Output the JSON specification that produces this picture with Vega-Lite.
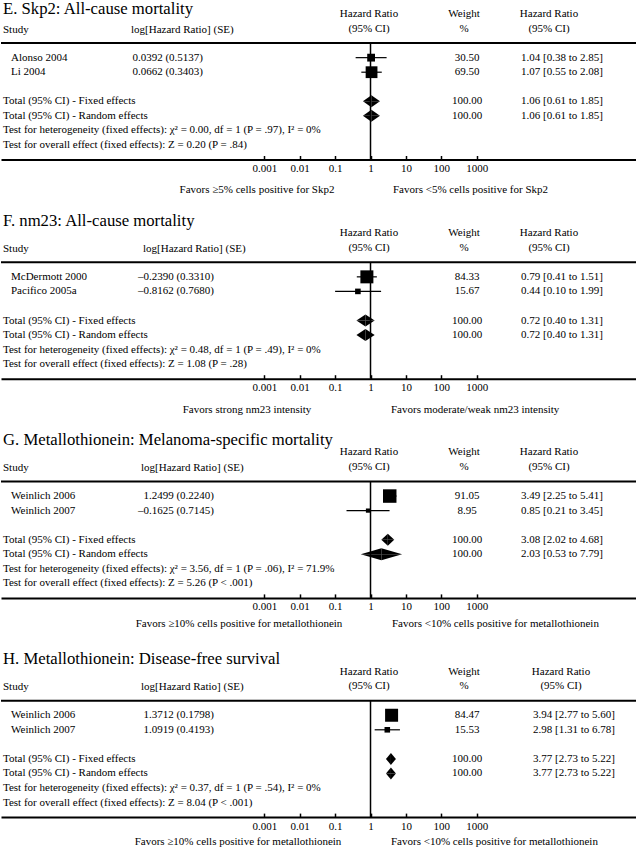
{
"$schema": "https://vega.github.io/schema/vega-lite/v6.json",
"padding": {"top": 0, "left": 0, "right": 0, "bottom": 0},
"bounds": "flush",
"spacing": 73.2,
"config": {"view": {"stroke": null}, "font": "Liberation Serif", "mark": {"font": "Liberation Serif"}, "text": {"fontSize": 11, "color": "black", "font": "Liberation Serif"}, "title": {"font": "Liberation Serif", "fontSize": 16.7, "fontWeight": "normal", "color": "black", "anchor": "start", "frame": "group"}},
"datasets": {
"panels": [
{"panel": "E", "favorsLeft": "Favors ≥5% cells positive for Skp2", "favorsRight": "Favors <5% cells positive for Skp2"},
{"panel": "F", "favorsLeft": "Favors strong nm23 intensity", "favorsRight": "Favors moderate/weak nm23 intensity"},
{"panel": "G", "favorsLeft": "Favors ≥10% cells positive for metallothionein", "favorsRight": "Favors <10% cells positive for metallothionein"},
{"panel": "H", "favorsLeft": "Favors ≥10% cells positive for metallothionein", "favorsRight": "Favors <10% cells positive for metallothionein"}
],
"rows": [
{"panel": "E", "kind": "study", "row": "s1", "label": "Alonso 2004", "logse": "0.0392 (0.5137)", "weight": 30.5, "hr": 1.04, "lo": 0.38, "hi": 2.85, "ci": "1.04 [0.38 to 2.85]"},
{"panel": "E", "kind": "study", "row": "s2", "label": "Li 2004", "logse": "0.0662 (0.3403)", "weight": 69.5, "hr": 1.07, "lo": 0.55, "hi": 2.08, "ci": "1.07 [0.55 to 2.08]"},
{"panel": "E", "kind": "total", "row": "tf", "label": "Total (95% CI) - Fixed effects", "weight": 100, "hr": 1.06, "lo": 0.61, "hi": 1.85, "ci": "1.06 [0.61 to 1.85]"},
{"panel": "E", "kind": "total", "row": "tr", "label": "Total (95% CI) - Random effects", "weight": 100, "hr": 1.06, "lo": 0.61, "hi": 1.85, "ci": "1.06 [0.61 to 1.85]"},
{"panel": "E", "kind": "test", "row": "het", "label": "Test for heterogeneity (fixed effects): χ² = 0.00, df = 1 (P = .97), I² = 0%"},
{"panel": "E", "kind": "test", "row": "ovr", "label": "Test for overall effect (fixed effects): Z = 0.20 (P = .84)"},
{"panel": "F", "kind": "study", "row": "s1", "label": "McDermott 2000", "logse": "–0.2390 (0.3310)", "weight": 84.33, "hr": 0.79, "lo": 0.41, "hi": 1.51, "ci": "0.79 [0.41 to 1.51]"},
{"panel": "F", "kind": "study", "row": "s2", "label": "Pacifico 2005a", "logse": "–0.8162 (0.7680)", "weight": 15.67, "hr": 0.44, "lo": 0.10, "hi": 1.99, "ci": "0.44 [0.10 to 1.99]"},
{"panel": "F", "kind": "total", "row": "tf", "label": "Total (95% CI) - Fixed effects", "weight": 100, "hr": 0.72, "lo": 0.40, "hi": 1.31, "ci": "0.72 [0.40 to 1.31]"},
{"panel": "F", "kind": "total", "row": "tr", "label": "Total (95% CI) - Random effects", "weight": 100, "hr": 0.72, "lo": 0.40, "hi": 1.31, "ci": "0.72 [0.40 to 1.31]"},
{"panel": "F", "kind": "test", "row": "het", "label": "Test for heterogeneity (fixed effects): χ² = 0.48, df = 1 (P = .49), I² = 0%"},
{"panel": "F", "kind": "test", "row": "ovr", "label": "Test for overall effect (fixed effects): Z = 1.08 (P = .28)"},
{"panel": "G", "kind": "study", "row": "s1", "label": "Weinlich 2006", "logse": "1.2499 (0.2240)", "weight": 91.05, "hr": 3.49, "lo": 2.25, "hi": 5.41, "ci": "3.49 [2.25 to 5.41]"},
{"panel": "G", "kind": "study", "row": "s2", "label": "Weinlich 2007", "logse": "–0.1625 (0.7145)", "weight": 8.95, "hr": 0.85, "lo": 0.21, "hi": 3.45, "ci": "0.85 [0.21 to 3.45]"},
{"panel": "G", "kind": "total", "row": "tf", "label": "Total (95% CI) - Fixed effects", "weight": 100, "hr": 3.08, "lo": 2.02, "hi": 4.68, "ci": "3.08 [2.02 to 4.68]"},
{"panel": "G", "kind": "total", "row": "tr", "label": "Total (95% CI) - Random effects", "weight": 100, "hr": 2.03, "lo": 0.53, "hi": 7.79, "ci": "2.03 [0.53 to 7.79]"},
{"panel": "G", "kind": "test", "row": "het", "label": "Test for heterogeneity (fixed effects): χ² = 3.56, df = 1 (P = .06), I² = 71.9%"},
{"panel": "G", "kind": "test", "row": "ovr", "label": "Test for overall effect (fixed effects): Z = 5.26 (P < .001)"},
{"panel": "H", "kind": "study", "row": "s1", "label": "Weinlich 2006", "logse": "1.3712 (0.1798)", "weight": 84.47, "hr": 3.94, "lo": 2.77, "hi": 5.60, "ci": "3.94 [2.77 to 5.60]"},
{"panel": "H", "kind": "study", "row": "s2", "label": "Weinlich 2007", "logse": "1.0919 (0.4193)", "weight": 15.53, "hr": 2.98, "lo": 1.31, "hi": 6.78, "ci": "2.98 [1.31 to 6.78]"},
{"panel": "H", "kind": "total", "row": "tf", "label": "Total (95% CI) - Fixed effects", "weight": 100, "hr": 3.77, "lo": 2.73, "hi": 5.22, "ci": "3.77 [2.73 to 5.22]"},
{"panel": "H", "kind": "total", "row": "tr", "label": "Total (95% CI) - Random effects", "weight": 100, "hr": 3.77, "lo": 2.73, "hi": 5.22, "ci": "3.77 [2.73 to 5.22]"},
{"panel": "H", "kind": "test", "row": "het", "label": "Test for heterogeneity (fixed effects): χ² = 0.37, df = 1 (P = .54), I² = 0%"},
{"panel": "H", "kind": "test", "row": "ovr", "label": "Test for overall effect (fixed effects): Z = 8.04 (P < .001)"}
]
},
"vconcat": [
{
"title": {"text": "E. Skp2: All-cause mortality", "offset": -22.5, "baseline": "alphabetic", "dx": 2},
"width": 636, "height": 145.5,
"data": {"name": "rows"},
"transform": [{"filter": "datum.panel === 'E'"}],
"resolve": {"scale": {"yOffset": "independent"}},
"layer": [
{"data": {"name": "panels"}, "transform": [{"filter": "datum.panel === 'E'"}], "mark": {"type": "rule", "strokeWidth": 2, "color": "black"}, "encoding": {"y": {"datum": "rule", "type": "nominal", "scale": {"type": "point", "domain": ["h1","h2","rule","s1","s2","gap","tf","tr","het","ovr","axis"], "padding": 0}, "axis": null}}},
{"data": {"name": "panels"}, "transform": [{"filter": "datum.panel === 'E'"}], "mark": {"type": "rule", "strokeWidth": 1.5, "color": "black"}, "encoding": {"x": {"datum": 1, "type": "quantitative", "title": null, "scale": {"type": "log", "domain": [3.65e-11, 3.37e7], "nice": false}, "axis": {"values": [0.001,0.01,0.1,1,10,100,1000], "labelExpr": "'' + datum.value", "title": null, "grid": false, "domainColor": "black", "domainWidth": 2, "tickColor": "black", "tickWidth": 1.5, "tickSize": -4, "labelPadding": 7, "labelFontSize": 11, "labelColor": "black", "labelFont": "Liberation Serif"}}, "y": {"datum": "rule", "type": "nominal", "scale": {"type": "point", "domain": ["h1","h2","rule","s1","s2","gap","tf","tr","het","ovr","axis"], "padding": 0}, "axis": null}, "y2": {"datum": "axis"}}},
{"transform": [{"filter": "datum.kind === 'study'"}], "mark": {"type": "rule", "strokeWidth": 1.2, "color": "black"}, "encoding": {"x": {"field": "lo", "type": "quantitative", "title": null, "scale": {"type": "log", "domain": [3.65e-11, 3.37e7], "nice": false}, "axis": {"values": [0.001,0.01,0.1,1,10,100,1000], "labelExpr": "'' + datum.value", "title": null, "grid": false, "domainColor": "black", "domainWidth": 2, "tickColor": "black", "tickWidth": 1.5, "tickSize": -4, "labelPadding": 7, "labelFontSize": 11, "labelColor": "black", "labelFont": "Liberation Serif"}}, "x2": {"field": "hi"}, "y": {"field": "row", "type": "nominal", "scale": {"type": "point", "domain": ["h1","h2","rule","s1","s2","gap","tf","tr","het","ovr","axis"], "padding": 0}, "axis": null}}},
{"transform": [{"filter": "datum.kind === 'study'"}], "mark": {"type": "square", "filled": true, "color": "black", "opacity": 1}, "encoding": {"x": {"field": "hr", "type": "quantitative", "title": null, "scale": {"type": "log", "domain": [3.65e-11, 3.37e7], "nice": false}, "axis": {"values": [0.001,0.01,0.1,1,10,100,1000], "labelExpr": "'' + datum.value", "title": null, "grid": false, "domainColor": "black", "domainWidth": 2, "tickColor": "black", "tickWidth": 1.5, "tickSize": -4, "labelPadding": 7, "labelFontSize": 11, "labelColor": "black", "labelFont": "Liberation Serif"}}, "y": {"field": "row", "type": "nominal", "scale": {"type": "point", "domain": ["h1","h2","rule","s1","s2","gap","tf","tr","het","ovr","axis"], "padding": 0}, "axis": null}, "size": {"field": "weight", "type": "quantitative", "scale": {"domain": [0, 100], "range": [0, 200]}, "legend": null}}},
{"transform": [{"filter": "datum.kind === 'total'"}, {"fold": ["lo", "hr"], "as": ["k", "v"]}], "mark": {"type": "area", "orient": "vertical", "color": "black", "opacity": 1}, "encoding": {"x": {"field": "v", "type": "quantitative", "title": null, "scale": {"type": "log", "domain": [3.65e-11, 3.37e7], "nice": false}, "axis": {"values": [0.001,0.01,0.1,1,10,100,1000], "labelExpr": "'' + datum.value", "title": null, "grid": false, "domainColor": "black", "domainWidth": 2, "tickColor": "black", "tickWidth": 1.5, "tickSize": -4, "labelPadding": 7, "labelFontSize": 11, "labelColor": "black", "labelFont": "Liberation Serif"}}, "y": {"field": "row", "type": "nominal", "scale": {"type": "point", "domain": ["h1","h2","rule","s1","s2","gap","tf","tr","het","ovr","axis"], "padding": 0}, "axis": null}, "yOffset": {"field": "k", "type": "nominal", "scale": {"type": "point", "domain": ["hr", "lo"], "range": [-6, 0], "padding": 0}}, "y2": {"field": "row"}, "detail": {"field": "row"}}},
{"transform": [{"filter": "datum.kind === 'total'"}, {"fold": ["hr", "hi"], "as": ["k", "v"]}], "mark": {"type": "area", "orient": "vertical", "color": "black", "opacity": 1}, "encoding": {"x": {"field": "v", "type": "quantitative", "title": null, "scale": {"type": "log", "domain": [3.65e-11, 3.37e7], "nice": false}, "axis": {"values": [0.001,0.01,0.1,1,10,100,1000], "labelExpr": "'' + datum.value", "title": null, "grid": false, "domainColor": "black", "domainWidth": 2, "tickColor": "black", "tickWidth": 1.5, "tickSize": -4, "labelPadding": 7, "labelFontSize": 11, "labelColor": "black", "labelFont": "Liberation Serif"}}, "y": {"field": "row", "type": "nominal", "scale": {"type": "point", "domain": ["h1","h2","rule","s1","s2","gap","tf","tr","het","ovr","axis"], "padding": 0}, "axis": null}, "yOffset": {"field": "k", "type": "nominal", "scale": {"type": "point", "domain": ["hr", "hi"], "range": [-6, 0], "padding": 0}}, "y2": {"field": "row"}, "detail": {"field": "row"}}},
{"transform": [{"filter": "datum.kind === 'total'"}, {"fold": ["lo", "hr"], "as": ["k", "v"]}], "mark": {"type": "area", "orient": "vertical", "color": "black", "opacity": 1}, "encoding": {"x": {"field": "v", "type": "quantitative", "title": null, "scale": {"type": "log", "domain": [3.65e-11, 3.37e7], "nice": false}, "axis": {"values": [0.001,0.01,0.1,1,10,100,1000], "labelExpr": "'' + datum.value", "title": null, "grid": false, "domainColor": "black", "domainWidth": 2, "tickColor": "black", "tickWidth": 1.5, "tickSize": -4, "labelPadding": 7, "labelFontSize": 11, "labelColor": "black", "labelFont": "Liberation Serif"}}, "y": {"field": "row", "type": "nominal", "scale": {"type": "point", "domain": ["h1","h2","rule","s1","s2","gap","tf","tr","het","ovr","axis"], "padding": 0}, "axis": null}, "yOffset": {"field": "k", "type": "nominal", "scale": {"type": "point", "domain": ["hr", "lo"], "range": [6, 0], "padding": 0}}, "y2": {"field": "row"}, "detail": {"field": "row"}}},
{"transform": [{"filter": "datum.kind === 'total'"}, {"fold": ["hr", "hi"], "as": ["k", "v"]}], "mark": {"type": "area", "orient": "vertical", "color": "black", "opacity": 1}, "encoding": {"x": {"field": "v", "type": "quantitative", "title": null, "scale": {"type": "log", "domain": [3.65e-11, 3.37e7], "nice": false}, "axis": {"values": [0.001,0.01,0.1,1,10,100,1000], "labelExpr": "'' + datum.value", "title": null, "grid": false, "domainColor": "black", "domainWidth": 2, "tickColor": "black", "tickWidth": 1.5, "tickSize": -4, "labelPadding": 7, "labelFontSize": 11, "labelColor": "black", "labelFont": "Liberation Serif"}}, "y": {"field": "row", "type": "nominal", "scale": {"type": "point", "domain": ["h1","h2","rule","s1","s2","gap","tf","tr","het","ovr","axis"], "padding": 0}, "axis": null}, "yOffset": {"field": "k", "type": "nominal", "scale": {"type": "point", "domain": ["hr", "hi"], "range": [6, 0], "padding": 0}}, "y2": {"field": "row"}, "detail": {"field": "row"}}},
{"transform": [{"filter": "datum.kind === 'study'"}], "mark": {"type": "text", "align": "left", "baseline": "middle"}, "encoding": {"x": {"value": 10}, "y": {"field": "row", "type": "nominal", "scale": {"type": "point", "domain": ["h1","h2","rule","s1","s2","gap","tf","tr","het","ovr","axis"], "padding": 0}, "axis": null}, "text": {"field": "label"}}},
{"transform": [{"filter": "datum.kind !== 'study'"}], "mark": {"type": "text", "align": "left", "baseline": "middle"}, "encoding": {"x": {"value": 2}, "y": {"field": "row", "type": "nominal", "scale": {"type": "point", "domain": ["h1","h2","rule","s1","s2","gap","tf","tr","het","ovr","axis"], "padding": 0}, "axis": null}, "text": {"field": "label"}}},
{"transform": [{"filter": "datum.kind === 'study'"}], "mark": {"type": "text", "align": "right", "baseline": "middle"}, "encoding": {"x": {"value": 202}, "y": {"field": "row", "type": "nominal", "scale": {"type": "point", "domain": ["h1","h2","rule","s1","s2","gap","tf","tr","het","ovr","axis"], "padding": 0}, "axis": null}, "text": {"field": "logse"}}},
{"transform": [{"filter": "datum.kind !== 'test'"}], "mark": {"type": "text", "align": "center", "baseline": "middle"}, "encoding": {"x": {"value": 466}, "y": {"field": "row", "type": "nominal", "scale": {"type": "point", "domain": ["h1","h2","rule","s1","s2","gap","tf","tr","het","ovr","axis"], "padding": 0}, "axis": null}, "text": {"field": "weight", "type": "quantitative", "format": ".2f"}}},
{"transform": [{"filter": "datum.kind !== 'test'"}], "mark": {"type": "text", "align": "left", "baseline": "middle"}, "encoding": {"x": {"value": 520}, "y": {"field": "row", "type": "nominal", "scale": {"type": "point", "domain": ["h1","h2","rule","s1","s2","gap","tf","tr","het","ovr","axis"], "padding": 0}, "axis": null}, "text": {"field": "ci"}}},
{"data": {"name": "panels"}, "transform": [{"filter": "datum.panel === 'E'"}], "mark": {"type": "text", "align": "left", "baseline": "middle", "dy": 1}, "encoding": {"x": {"value": 2}, "y": {"datum": "h2", "type": "nominal", "scale": {"type": "point", "domain": ["h1","h2","rule","s1","s2","gap","tf","tr","het","ovr","axis"], "padding": 0}, "axis": null}, "text": {"value": "Study"}}},
{"data": {"name": "panels"}, "transform": [{"filter": "datum.panel === 'E'"}], "mark": {"type": "text", "align": "left", "baseline": "middle", "dy": 1}, "encoding": {"x": {"value": 130}, "y": {"datum": "h2", "type": "nominal", "scale": {"type": "point", "domain": ["h1","h2","rule","s1","s2","gap","tf","tr","het","ovr","axis"], "padding": 0}, "axis": null}, "text": {"value": "log[Hazard Ratio] (SE)"}}},
{"data": {"name": "panels"}, "transform": [{"filter": "datum.panel === 'E'"}], "mark": {"type": "text", "align": "center", "baseline": "middle"}, "encoding": {"x": {"value": 368}, "y": {"datum": "h1", "type": "nominal", "scale": {"type": "point", "domain": ["h1","h2","rule","s1","s2","gap","tf","tr","het","ovr","axis"], "padding": 0}, "axis": null}, "text": {"value": "Hazard Ratio"}}},
{"data": {"name": "panels"}, "transform": [{"filter": "datum.panel === 'E'"}], "mark": {"type": "text", "align": "center", "baseline": "middle"}, "encoding": {"x": {"value": 368}, "y": {"datum": "h2", "type": "nominal", "scale": {"type": "point", "domain": ["h1","h2","rule","s1","s2","gap","tf","tr","het","ovr","axis"], "padding": 0}, "axis": null}, "text": {"value": "(95% CI)"}}},
{"data": {"name": "panels"}, "transform": [{"filter": "datum.panel === 'E'"}], "mark": {"type": "text", "align": "center", "baseline": "middle"}, "encoding": {"x": {"value": 463}, "y": {"datum": "h1", "type": "nominal", "scale": {"type": "point", "domain": ["h1","h2","rule","s1","s2","gap","tf","tr","het","ovr","axis"], "padding": 0}, "axis": null}, "text": {"value": "Weight"}}},
{"data": {"name": "panels"}, "transform": [{"filter": "datum.panel === 'E'"}], "mark": {"type": "text", "align": "center", "baseline": "middle"}, "encoding": {"x": {"value": 463}, "y": {"datum": "h2", "type": "nominal", "scale": {"type": "point", "domain": ["h1","h2","rule","s1","s2","gap","tf","tr","het","ovr","axis"], "padding": 0}, "axis": null}, "text": {"value": "%"}}},
{"data": {"name": "panels"}, "transform": [{"filter": "datum.panel === 'E'"}], "mark": {"type": "text", "align": "center", "baseline": "middle"}, "encoding": {"x": {"value": 548}, "y": {"datum": "h1", "type": "nominal", "scale": {"type": "point", "domain": ["h1","h2","rule","s1","s2","gap","tf","tr","het","ovr","axis"], "padding": 0}, "axis": null}, "text": {"value": "Hazard Ratio"}}},
{"data": {"name": "panels"}, "transform": [{"filter": "datum.panel === 'E'"}], "mark": {"type": "text", "align": "center", "baseline": "middle"}, "encoding": {"x": {"value": 548}, "y": {"datum": "h2", "type": "nominal", "scale": {"type": "point", "domain": ["h1","h2","rule","s1","s2","gap","tf","tr","het","ovr","axis"], "padding": 0}, "axis": null}, "text": {"value": "(95% CI)"}}},
{"data": {"name": "panels"}, "transform": [{"filter": "datum.panel === 'E'"}], "mark": {"type": "text", "align": "center", "baseline": "middle", "dy": 30}, "encoding": {"x": {"value": 256}, "y": {"datum": "axis", "type": "nominal", "scale": {"type": "point", "domain": ["h1","h2","rule","s1","s2","gap","tf","tr","het","ovr","axis"], "padding": 0}, "axis": null}, "text": {"field": "favorsLeft"}}},
{"data": {"name": "panels"}, "transform": [{"filter": "datum.panel === 'E'"}], "mark": {"type": "text", "align": "left", "baseline": "middle", "dy": 30}, "encoding": {"x": {"value": 392}, "y": {"datum": "axis", "type": "nominal", "scale": {"type": "point", "domain": ["h1","h2","rule","s1","s2","gap","tf","tr","het","ovr","axis"], "padding": 0}, "axis": null}, "text": {"field": "favorsRight"}}}
]
},
{
"title": {"text": "F. nm23: All-cause mortality", "offset": -15.5, "baseline": "alphabetic", "dx": 2},
"width": 636, "height": 145.5,
"data": {"name": "rows"},
"transform": [{"filter": "datum.panel === 'F'"}],
"resolve": {"scale": {"yOffset": "independent"}},
"layer": [
{"data": {"name": "panels"}, "transform": [{"filter": "datum.panel === 'F'"}], "mark": {"type": "rule", "strokeWidth": 2, "color": "black"}, "encoding": {"y": {"datum": "rule", "type": "nominal", "scale": {"type": "point", "domain": ["h1","h2","rule","s1","s2","gap","tf","tr","het","ovr","axis"], "padding": 0}, "axis": null}}},
{"data": {"name": "panels"}, "transform": [{"filter": "datum.panel === 'F'"}], "mark": {"type": "rule", "strokeWidth": 1.5, "color": "black"}, "encoding": {"x": {"datum": 1, "type": "quantitative", "title": null, "scale": {"type": "log", "domain": [3.65e-11, 3.37e7], "nice": false}, "axis": {"values": [0.001,0.01,0.1,1,10,100,1000], "labelExpr": "'' + datum.value", "title": null, "grid": false, "domainColor": "black", "domainWidth": 2, "tickColor": "black", "tickWidth": 1.5, "tickSize": -4, "labelPadding": 7, "labelFontSize": 11, "labelColor": "black", "labelFont": "Liberation Serif"}}, "y": {"datum": "rule", "type": "nominal", "scale": {"type": "point", "domain": ["h1","h2","rule","s1","s2","gap","tf","tr","het","ovr","axis"], "padding": 0}, "axis": null}, "y2": {"datum": "axis"}}},
{"transform": [{"filter": "datum.kind === 'study'"}], "mark": {"type": "rule", "strokeWidth": 1.2, "color": "black"}, "encoding": {"x": {"field": "lo", "type": "quantitative", "title": null, "scale": {"type": "log", "domain": [3.65e-11, 3.37e7], "nice": false}, "axis": {"values": [0.001,0.01,0.1,1,10,100,1000], "labelExpr": "'' + datum.value", "title": null, "grid": false, "domainColor": "black", "domainWidth": 2, "tickColor": "black", "tickWidth": 1.5, "tickSize": -4, "labelPadding": 7, "labelFontSize": 11, "labelColor": "black", "labelFont": "Liberation Serif"}}, "x2": {"field": "hi"}, "y": {"field": "row", "type": "nominal", "scale": {"type": "point", "domain": ["h1","h2","rule","s1","s2","gap","tf","tr","het","ovr","axis"], "padding": 0}, "axis": null}}},
{"transform": [{"filter": "datum.kind === 'study'"}], "mark": {"type": "square", "filled": true, "color": "black", "opacity": 1}, "encoding": {"x": {"field": "hr", "type": "quantitative", "title": null, "scale": {"type": "log", "domain": [3.65e-11, 3.37e7], "nice": false}, "axis": {"values": [0.001,0.01,0.1,1,10,100,1000], "labelExpr": "'' + datum.value", "title": null, "grid": false, "domainColor": "black", "domainWidth": 2, "tickColor": "black", "tickWidth": 1.5, "tickSize": -4, "labelPadding": 7, "labelFontSize": 11, "labelColor": "black", "labelFont": "Liberation Serif"}}, "y": {"field": "row", "type": "nominal", "scale": {"type": "point", "domain": ["h1","h2","rule","s1","s2","gap","tf","tr","het","ovr","axis"], "padding": 0}, "axis": null}, "size": {"field": "weight", "type": "quantitative", "scale": {"domain": [0, 100], "range": [0, 200]}, "legend": null}}},
{"transform": [{"filter": "datum.kind === 'total'"}, {"fold": ["lo", "hr"], "as": ["k", "v"]}], "mark": {"type": "area", "orient": "vertical", "color": "black", "opacity": 1}, "encoding": {"x": {"field": "v", "type": "quantitative", "title": null, "scale": {"type": "log", "domain": [3.65e-11, 3.37e7], "nice": false}, "axis": {"values": [0.001,0.01,0.1,1,10,100,1000], "labelExpr": "'' + datum.value", "title": null, "grid": false, "domainColor": "black", "domainWidth": 2, "tickColor": "black", "tickWidth": 1.5, "tickSize": -4, "labelPadding": 7, "labelFontSize": 11, "labelColor": "black", "labelFont": "Liberation Serif"}}, "y": {"field": "row", "type": "nominal", "scale": {"type": "point", "domain": ["h1","h2","rule","s1","s2","gap","tf","tr","het","ovr","axis"], "padding": 0}, "axis": null}, "yOffset": {"field": "k", "type": "nominal", "scale": {"type": "point", "domain": ["hr", "lo"], "range": [-6, 0], "padding": 0}}, "y2": {"field": "row"}, "detail": {"field": "row"}}},
{"transform": [{"filter": "datum.kind === 'total'"}, {"fold": ["hr", "hi"], "as": ["k", "v"]}], "mark": {"type": "area", "orient": "vertical", "color": "black", "opacity": 1}, "encoding": {"x": {"field": "v", "type": "quantitative", "title": null, "scale": {"type": "log", "domain": [3.65e-11, 3.37e7], "nice": false}, "axis": {"values": [0.001,0.01,0.1,1,10,100,1000], "labelExpr": "'' + datum.value", "title": null, "grid": false, "domainColor": "black", "domainWidth": 2, "tickColor": "black", "tickWidth": 1.5, "tickSize": -4, "labelPadding": 7, "labelFontSize": 11, "labelColor": "black", "labelFont": "Liberation Serif"}}, "y": {"field": "row", "type": "nominal", "scale": {"type": "point", "domain": ["h1","h2","rule","s1","s2","gap","tf","tr","het","ovr","axis"], "padding": 0}, "axis": null}, "yOffset": {"field": "k", "type": "nominal", "scale": {"type": "point", "domain": ["hr", "hi"], "range": [-6, 0], "padding": 0}}, "y2": {"field": "row"}, "detail": {"field": "row"}}},
{"transform": [{"filter": "datum.kind === 'total'"}, {"fold": ["lo", "hr"], "as": ["k", "v"]}], "mark": {"type": "area", "orient": "vertical", "color": "black", "opacity": 1}, "encoding": {"x": {"field": "v", "type": "quantitative", "title": null, "scale": {"type": "log", "domain": [3.65e-11, 3.37e7], "nice": false}, "axis": {"values": [0.001,0.01,0.1,1,10,100,1000], "labelExpr": "'' + datum.value", "title": null, "grid": false, "domainColor": "black", "domainWidth": 2, "tickColor": "black", "tickWidth": 1.5, "tickSize": -4, "labelPadding": 7, "labelFontSize": 11, "labelColor": "black", "labelFont": "Liberation Serif"}}, "y": {"field": "row", "type": "nominal", "scale": {"type": "point", "domain": ["h1","h2","rule","s1","s2","gap","tf","tr","het","ovr","axis"], "padding": 0}, "axis": null}, "yOffset": {"field": "k", "type": "nominal", "scale": {"type": "point", "domain": ["hr", "lo"], "range": [6, 0], "padding": 0}}, "y2": {"field": "row"}, "detail": {"field": "row"}}},
{"transform": [{"filter": "datum.kind === 'total'"}, {"fold": ["hr", "hi"], "as": ["k", "v"]}], "mark": {"type": "area", "orient": "vertical", "color": "black", "opacity": 1}, "encoding": {"x": {"field": "v", "type": "quantitative", "title": null, "scale": {"type": "log", "domain": [3.65e-11, 3.37e7], "nice": false}, "axis": {"values": [0.001,0.01,0.1,1,10,100,1000], "labelExpr": "'' + datum.value", "title": null, "grid": false, "domainColor": "black", "domainWidth": 2, "tickColor": "black", "tickWidth": 1.5, "tickSize": -4, "labelPadding": 7, "labelFontSize": 11, "labelColor": "black", "labelFont": "Liberation Serif"}}, "y": {"field": "row", "type": "nominal", "scale": {"type": "point", "domain": ["h1","h2","rule","s1","s2","gap","tf","tr","het","ovr","axis"], "padding": 0}, "axis": null}, "yOffset": {"field": "k", "type": "nominal", "scale": {"type": "point", "domain": ["hr", "hi"], "range": [6, 0], "padding": 0}}, "y2": {"field": "row"}, "detail": {"field": "row"}}},
{"transform": [{"filter": "datum.kind === 'study'"}], "mark": {"type": "text", "align": "left", "baseline": "middle"}, "encoding": {"x": {"value": 10}, "y": {"field": "row", "type": "nominal", "scale": {"type": "point", "domain": ["h1","h2","rule","s1","s2","gap","tf","tr","het","ovr","axis"], "padding": 0}, "axis": null}, "text": {"field": "label"}}},
{"transform": [{"filter": "datum.kind !== 'study'"}], "mark": {"type": "text", "align": "left", "baseline": "middle"}, "encoding": {"x": {"value": 2}, "y": {"field": "row", "type": "nominal", "scale": {"type": "point", "domain": ["h1","h2","rule","s1","s2","gap","tf","tr","het","ovr","axis"], "padding": 0}, "axis": null}, "text": {"field": "label"}}},
{"transform": [{"filter": "datum.kind === 'study'"}], "mark": {"type": "text", "align": "right", "baseline": "middle"}, "encoding": {"x": {"value": 213}, "y": {"field": "row", "type": "nominal", "scale": {"type": "point", "domain": ["h1","h2","rule","s1","s2","gap","tf","tr","het","ovr","axis"], "padding": 0}, "axis": null}, "text": {"field": "logse"}}},
{"transform": [{"filter": "datum.kind !== 'test'"}], "mark": {"type": "text", "align": "center", "baseline": "middle"}, "encoding": {"x": {"value": 466}, "y": {"field": "row", "type": "nominal", "scale": {"type": "point", "domain": ["h1","h2","rule","s1","s2","gap","tf","tr","het","ovr","axis"], "padding": 0}, "axis": null}, "text": {"field": "weight", "type": "quantitative", "format": ".2f"}}},
{"transform": [{"filter": "datum.kind !== 'test'"}], "mark": {"type": "text", "align": "left", "baseline": "middle"}, "encoding": {"x": {"value": 520}, "y": {"field": "row", "type": "nominal", "scale": {"type": "point", "domain": ["h1","h2","rule","s1","s2","gap","tf","tr","het","ovr","axis"], "padding": 0}, "axis": null}, "text": {"field": "ci"}}},
{"data": {"name": "panels"}, "transform": [{"filter": "datum.panel === 'F'"}], "mark": {"type": "text", "align": "left", "baseline": "middle", "dy": 1}, "encoding": {"x": {"value": 2}, "y": {"datum": "h2", "type": "nominal", "scale": {"type": "point", "domain": ["h1","h2","rule","s1","s2","gap","tf","tr","het","ovr","axis"], "padding": 0}, "axis": null}, "text": {"value": "Study"}}},
{"data": {"name": "panels"}, "transform": [{"filter": "datum.panel === 'F'"}], "mark": {"type": "text", "align": "left", "baseline": "middle", "dy": 1}, "encoding": {"x": {"value": 142}, "y": {"datum": "h2", "type": "nominal", "scale": {"type": "point", "domain": ["h1","h2","rule","s1","s2","gap","tf","tr","het","ovr","axis"], "padding": 0}, "axis": null}, "text": {"value": "log[Hazard Ratio] (SE)"}}},
{"data": {"name": "panels"}, "transform": [{"filter": "datum.panel === 'F'"}], "mark": {"type": "text", "align": "center", "baseline": "middle"}, "encoding": {"x": {"value": 368}, "y": {"datum": "h1", "type": "nominal", "scale": {"type": "point", "domain": ["h1","h2","rule","s1","s2","gap","tf","tr","het","ovr","axis"], "padding": 0}, "axis": null}, "text": {"value": "Hazard Ratio"}}},
{"data": {"name": "panels"}, "transform": [{"filter": "datum.panel === 'F'"}], "mark": {"type": "text", "align": "center", "baseline": "middle"}, "encoding": {"x": {"value": 368}, "y": {"datum": "h2", "type": "nominal", "scale": {"type": "point", "domain": ["h1","h2","rule","s1","s2","gap","tf","tr","het","ovr","axis"], "padding": 0}, "axis": null}, "text": {"value": "(95% CI)"}}},
{"data": {"name": "panels"}, "transform": [{"filter": "datum.panel === 'F'"}], "mark": {"type": "text", "align": "center", "baseline": "middle"}, "encoding": {"x": {"value": 463}, "y": {"datum": "h1", "type": "nominal", "scale": {"type": "point", "domain": ["h1","h2","rule","s1","s2","gap","tf","tr","het","ovr","axis"], "padding": 0}, "axis": null}, "text": {"value": "Weight"}}},
{"data": {"name": "panels"}, "transform": [{"filter": "datum.panel === 'F'"}], "mark": {"type": "text", "align": "center", "baseline": "middle"}, "encoding": {"x": {"value": 463}, "y": {"datum": "h2", "type": "nominal", "scale": {"type": "point", "domain": ["h1","h2","rule","s1","s2","gap","tf","tr","het","ovr","axis"], "padding": 0}, "axis": null}, "text": {"value": "%"}}},
{"data": {"name": "panels"}, "transform": [{"filter": "datum.panel === 'F'"}], "mark": {"type": "text", "align": "center", "baseline": "middle"}, "encoding": {"x": {"value": 548}, "y": {"datum": "h1", "type": "nominal", "scale": {"type": "point", "domain": ["h1","h2","rule","s1","s2","gap","tf","tr","het","ovr","axis"], "padding": 0}, "axis": null}, "text": {"value": "Hazard Ratio"}}},
{"data": {"name": "panels"}, "transform": [{"filter": "datum.panel === 'F'"}], "mark": {"type": "text", "align": "center", "baseline": "middle"}, "encoding": {"x": {"value": 548}, "y": {"datum": "h2", "type": "nominal", "scale": {"type": "point", "domain": ["h1","h2","rule","s1","s2","gap","tf","tr","het","ovr","axis"], "padding": 0}, "axis": null}, "text": {"value": "(95% CI)"}}},
{"data": {"name": "panels"}, "transform": [{"filter": "datum.panel === 'F'"}], "mark": {"type": "text", "align": "center", "baseline": "middle", "dy": 31}, "encoding": {"x": {"value": 246}, "y": {"datum": "axis", "type": "nominal", "scale": {"type": "point", "domain": ["h1","h2","rule","s1","s2","gap","tf","tr","het","ovr","axis"], "padding": 0}, "axis": null}, "text": {"field": "favorsLeft"}}},
{"data": {"name": "panels"}, "transform": [{"filter": "datum.panel === 'F'"}], "mark": {"type": "text", "align": "left", "baseline": "middle", "dy": 31}, "encoding": {"x": {"value": 390}, "y": {"datum": "axis", "type": "nominal", "scale": {"type": "point", "domain": ["h1","h2","rule","s1","s2","gap","tf","tr","het","ovr","axis"], "padding": 0}, "axis": null}, "text": {"field": "favorsRight"}}}
]
},
{
"title": {"text": "G. Metallothionein: Melanoma-specific mortality", "offset": -15.5, "baseline": "alphabetic", "dx": 2},
"width": 636, "height": 145.5,
"data": {"name": "rows"},
"transform": [{"filter": "datum.panel === 'G'"}],
"resolve": {"scale": {"yOffset": "independent"}},
"layer": [
{"data": {"name": "panels"}, "transform": [{"filter": "datum.panel === 'G'"}], "mark": {"type": "rule", "strokeWidth": 2, "color": "black"}, "encoding": {"y": {"datum": "rule", "type": "nominal", "scale": {"type": "point", "domain": ["h1","h2","rule","s1","s2","gap","tf","tr","het","ovr","axis"], "padding": 0}, "axis": null}}},
{"data": {"name": "panels"}, "transform": [{"filter": "datum.panel === 'G'"}], "mark": {"type": "rule", "strokeWidth": 1.5, "color": "black"}, "encoding": {"x": {"datum": 1, "type": "quantitative", "title": null, "scale": {"type": "log", "domain": [3.65e-11, 3.37e7], "nice": false}, "axis": {"values": [0.001,0.01,0.1,1,10,100,1000], "labelExpr": "'' + datum.value", "title": null, "grid": false, "domainColor": "black", "domainWidth": 2, "tickColor": "black", "tickWidth": 1.5, "tickSize": -4, "labelPadding": 7, "labelFontSize": 11, "labelColor": "black", "labelFont": "Liberation Serif"}}, "y": {"datum": "rule", "type": "nominal", "scale": {"type": "point", "domain": ["h1","h2","rule","s1","s2","gap","tf","tr","het","ovr","axis"], "padding": 0}, "axis": null}, "y2": {"datum": "axis"}}},
{"transform": [{"filter": "datum.kind === 'study'"}], "mark": {"type": "rule", "strokeWidth": 1.2, "color": "black"}, "encoding": {"x": {"field": "lo", "type": "quantitative", "title": null, "scale": {"type": "log", "domain": [3.65e-11, 3.37e7], "nice": false}, "axis": {"values": [0.001,0.01,0.1,1,10,100,1000], "labelExpr": "'' + datum.value", "title": null, "grid": false, "domainColor": "black", "domainWidth": 2, "tickColor": "black", "tickWidth": 1.5, "tickSize": -4, "labelPadding": 7, "labelFontSize": 11, "labelColor": "black", "labelFont": "Liberation Serif"}}, "x2": {"field": "hi"}, "y": {"field": "row", "type": "nominal", "scale": {"type": "point", "domain": ["h1","h2","rule","s1","s2","gap","tf","tr","het","ovr","axis"], "padding": 0}, "axis": null}}},
{"transform": [{"filter": "datum.kind === 'study'"}], "mark": {"type": "square", "filled": true, "color": "black", "opacity": 1}, "encoding": {"x": {"field": "hr", "type": "quantitative", "title": null, "scale": {"type": "log", "domain": [3.65e-11, 3.37e7], "nice": false}, "axis": {"values": [0.001,0.01,0.1,1,10,100,1000], "labelExpr": "'' + datum.value", "title": null, "grid": false, "domainColor": "black", "domainWidth": 2, "tickColor": "black", "tickWidth": 1.5, "tickSize": -4, "labelPadding": 7, "labelFontSize": 11, "labelColor": "black", "labelFont": "Liberation Serif"}}, "y": {"field": "row", "type": "nominal", "scale": {"type": "point", "domain": ["h1","h2","rule","s1","s2","gap","tf","tr","het","ovr","axis"], "padding": 0}, "axis": null}, "size": {"field": "weight", "type": "quantitative", "scale": {"domain": [0, 100], "range": [0, 200]}, "legend": null}}},
{"transform": [{"filter": "datum.kind === 'total'"}, {"fold": ["lo", "hr"], "as": ["k", "v"]}], "mark": {"type": "area", "orient": "vertical", "color": "black", "opacity": 1}, "encoding": {"x": {"field": "v", "type": "quantitative", "title": null, "scale": {"type": "log", "domain": [3.65e-11, 3.37e7], "nice": false}, "axis": {"values": [0.001,0.01,0.1,1,10,100,1000], "labelExpr": "'' + datum.value", "title": null, "grid": false, "domainColor": "black", "domainWidth": 2, "tickColor": "black", "tickWidth": 1.5, "tickSize": -4, "labelPadding": 7, "labelFontSize": 11, "labelColor": "black", "labelFont": "Liberation Serif"}}, "y": {"field": "row", "type": "nominal", "scale": {"type": "point", "domain": ["h1","h2","rule","s1","s2","gap","tf","tr","het","ovr","axis"], "padding": 0}, "axis": null}, "yOffset": {"field": "k", "type": "nominal", "scale": {"type": "point", "domain": ["hr", "lo"], "range": [-6, 0], "padding": 0}}, "y2": {"field": "row"}, "detail": {"field": "row"}}},
{"transform": [{"filter": "datum.kind === 'total'"}, {"fold": ["hr", "hi"], "as": ["k", "v"]}], "mark": {"type": "area", "orient": "vertical", "color": "black", "opacity": 1}, "encoding": {"x": {"field": "v", "type": "quantitative", "title": null, "scale": {"type": "log", "domain": [3.65e-11, 3.37e7], "nice": false}, "axis": {"values": [0.001,0.01,0.1,1,10,100,1000], "labelExpr": "'' + datum.value", "title": null, "grid": false, "domainColor": "black", "domainWidth": 2, "tickColor": "black", "tickWidth": 1.5, "tickSize": -4, "labelPadding": 7, "labelFontSize": 11, "labelColor": "black", "labelFont": "Liberation Serif"}}, "y": {"field": "row", "type": "nominal", "scale": {"type": "point", "domain": ["h1","h2","rule","s1","s2","gap","tf","tr","het","ovr","axis"], "padding": 0}, "axis": null}, "yOffset": {"field": "k", "type": "nominal", "scale": {"type": "point", "domain": ["hr", "hi"], "range": [-6, 0], "padding": 0}}, "y2": {"field": "row"}, "detail": {"field": "row"}}},
{"transform": [{"filter": "datum.kind === 'total'"}, {"fold": ["lo", "hr"], "as": ["k", "v"]}], "mark": {"type": "area", "orient": "vertical", "color": "black", "opacity": 1}, "encoding": {"x": {"field": "v", "type": "quantitative", "title": null, "scale": {"type": "log", "domain": [3.65e-11, 3.37e7], "nice": false}, "axis": {"values": [0.001,0.01,0.1,1,10,100,1000], "labelExpr": "'' + datum.value", "title": null, "grid": false, "domainColor": "black", "domainWidth": 2, "tickColor": "black", "tickWidth": 1.5, "tickSize": -4, "labelPadding": 7, "labelFontSize": 11, "labelColor": "black", "labelFont": "Liberation Serif"}}, "y": {"field": "row", "type": "nominal", "scale": {"type": "point", "domain": ["h1","h2","rule","s1","s2","gap","tf","tr","het","ovr","axis"], "padding": 0}, "axis": null}, "yOffset": {"field": "k", "type": "nominal", "scale": {"type": "point", "domain": ["hr", "lo"], "range": [6, 0], "padding": 0}}, "y2": {"field": "row"}, "detail": {"field": "row"}}},
{"transform": [{"filter": "datum.kind === 'total'"}, {"fold": ["hr", "hi"], "as": ["k", "v"]}], "mark": {"type": "area", "orient": "vertical", "color": "black", "opacity": 1}, "encoding": {"x": {"field": "v", "type": "quantitative", "title": null, "scale": {"type": "log", "domain": [3.65e-11, 3.37e7], "nice": false}, "axis": {"values": [0.001,0.01,0.1,1,10,100,1000], "labelExpr": "'' + datum.value", "title": null, "grid": false, "domainColor": "black", "domainWidth": 2, "tickColor": "black", "tickWidth": 1.5, "tickSize": -4, "labelPadding": 7, "labelFontSize": 11, "labelColor": "black", "labelFont": "Liberation Serif"}}, "y": {"field": "row", "type": "nominal", "scale": {"type": "point", "domain": ["h1","h2","rule","s1","s2","gap","tf","tr","het","ovr","axis"], "padding": 0}, "axis": null}, "yOffset": {"field": "k", "type": "nominal", "scale": {"type": "point", "domain": ["hr", "hi"], "range": [6, 0], "padding": 0}}, "y2": {"field": "row"}, "detail": {"field": "row"}}},
{"transform": [{"filter": "datum.kind === 'study'"}], "mark": {"type": "text", "align": "left", "baseline": "middle"}, "encoding": {"x": {"value": 10}, "y": {"field": "row", "type": "nominal", "scale": {"type": "point", "domain": ["h1","h2","rule","s1","s2","gap","tf","tr","het","ovr","axis"], "padding": 0}, "axis": null}, "text": {"field": "label"}}},
{"transform": [{"filter": "datum.kind !== 'study'"}], "mark": {"type": "text", "align": "left", "baseline": "middle"}, "encoding": {"x": {"value": 2}, "y": {"field": "row", "type": "nominal", "scale": {"type": "point", "domain": ["h1","h2","rule","s1","s2","gap","tf","tr","het","ovr","axis"], "padding": 0}, "axis": null}, "text": {"field": "label"}}},
{"transform": [{"filter": "datum.kind === 'study'"}], "mark": {"type": "text", "align": "right", "baseline": "middle"}, "encoding": {"x": {"value": 213}, "y": {"field": "row", "type": "nominal", "scale": {"type": "point", "domain": ["h1","h2","rule","s1","s2","gap","tf","tr","het","ovr","axis"], "padding": 0}, "axis": null}, "text": {"field": "logse"}}},
{"transform": [{"filter": "datum.kind !== 'test'"}], "mark": {"type": "text", "align": "center", "baseline": "middle"}, "encoding": {"x": {"value": 466}, "y": {"field": "row", "type": "nominal", "scale": {"type": "point", "domain": ["h1","h2","rule","s1","s2","gap","tf","tr","het","ovr","axis"], "padding": 0}, "axis": null}, "text": {"field": "weight", "type": "quantitative", "format": ".2f"}}},
{"transform": [{"filter": "datum.kind !== 'test'"}], "mark": {"type": "text", "align": "left", "baseline": "middle"}, "encoding": {"x": {"value": 520}, "y": {"field": "row", "type": "nominal", "scale": {"type": "point", "domain": ["h1","h2","rule","s1","s2","gap","tf","tr","het","ovr","axis"], "padding": 0}, "axis": null}, "text": {"field": "ci"}}},
{"data": {"name": "panels"}, "transform": [{"filter": "datum.panel === 'G'"}], "mark": {"type": "text", "align": "left", "baseline": "middle", "dy": 1}, "encoding": {"x": {"value": 2}, "y": {"datum": "h2", "type": "nominal", "scale": {"type": "point", "domain": ["h1","h2","rule","s1","s2","gap","tf","tr","het","ovr","axis"], "padding": 0}, "axis": null}, "text": {"value": "Study"}}},
{"data": {"name": "panels"}, "transform": [{"filter": "datum.panel === 'G'"}], "mark": {"type": "text", "align": "left", "baseline": "middle", "dy": 1}, "encoding": {"x": {"value": 140}, "y": {"datum": "h2", "type": "nominal", "scale": {"type": "point", "domain": ["h1","h2","rule","s1","s2","gap","tf","tr","het","ovr","axis"], "padding": 0}, "axis": null}, "text": {"value": "log[Hazard Ratio] (SE)"}}},
{"data": {"name": "panels"}, "transform": [{"filter": "datum.panel === 'G'"}], "mark": {"type": "text", "align": "center", "baseline": "middle"}, "encoding": {"x": {"value": 368}, "y": {"datum": "h1", "type": "nominal", "scale": {"type": "point", "domain": ["h1","h2","rule","s1","s2","gap","tf","tr","het","ovr","axis"], "padding": 0}, "axis": null}, "text": {"value": "Hazard Ratio"}}},
{"data": {"name": "panels"}, "transform": [{"filter": "datum.panel === 'G'"}], "mark": {"type": "text", "align": "center", "baseline": "middle"}, "encoding": {"x": {"value": 368}, "y": {"datum": "h2", "type": "nominal", "scale": {"type": "point", "domain": ["h1","h2","rule","s1","s2","gap","tf","tr","het","ovr","axis"], "padding": 0}, "axis": null}, "text": {"value": "(95% CI)"}}},
{"data": {"name": "panels"}, "transform": [{"filter": "datum.panel === 'G'"}], "mark": {"type": "text", "align": "center", "baseline": "middle"}, "encoding": {"x": {"value": 463}, "y": {"datum": "h1", "type": "nominal", "scale": {"type": "point", "domain": ["h1","h2","rule","s1","s2","gap","tf","tr","het","ovr","axis"], "padding": 0}, "axis": null}, "text": {"value": "Weight"}}},
{"data": {"name": "panels"}, "transform": [{"filter": "datum.panel === 'G'"}], "mark": {"type": "text", "align": "center", "baseline": "middle"}, "encoding": {"x": {"value": 463}, "y": {"datum": "h2", "type": "nominal", "scale": {"type": "point", "domain": ["h1","h2","rule","s1","s2","gap","tf","tr","het","ovr","axis"], "padding": 0}, "axis": null}, "text": {"value": "%"}}},
{"data": {"name": "panels"}, "transform": [{"filter": "datum.panel === 'G'"}], "mark": {"type": "text", "align": "center", "baseline": "middle"}, "encoding": {"x": {"value": 548}, "y": {"datum": "h1", "type": "nominal", "scale": {"type": "point", "domain": ["h1","h2","rule","s1","s2","gap","tf","tr","het","ovr","axis"], "padding": 0}, "axis": null}, "text": {"value": "Hazard Ratio"}}},
{"data": {"name": "panels"}, "transform": [{"filter": "datum.panel === 'G'"}], "mark": {"type": "text", "align": "center", "baseline": "middle"}, "encoding": {"x": {"value": 548}, "y": {"datum": "h2", "type": "nominal", "scale": {"type": "point", "domain": ["h1","h2","rule","s1","s2","gap","tf","tr","het","ovr","axis"], "padding": 0}, "axis": null}, "text": {"value": "(95% CI)"}}},
{"data": {"name": "panels"}, "transform": [{"filter": "datum.panel === 'G'"}], "mark": {"type": "text", "align": "center", "baseline": "middle", "dy": 26}, "encoding": {"x": {"value": 238}, "y": {"datum": "axis", "type": "nominal", "scale": {"type": "point", "domain": ["h1","h2","rule","s1","s2","gap","tf","tr","het","ovr","axis"], "padding": 0}, "axis": null}, "text": {"field": "favorsLeft"}}},
{"data": {"name": "panels"}, "transform": [{"filter": "datum.panel === 'G'"}], "mark": {"type": "text", "align": "left", "baseline": "middle", "dy": 26}, "encoding": {"x": {"value": 391}, "y": {"datum": "axis", "type": "nominal", "scale": {"type": "point", "domain": ["h1","h2","rule","s1","s2","gap","tf","tr","het","ovr","axis"], "padding": 0}, "axis": null}, "text": {"field": "favorsRight"}}}
]
},
{
"title": {"text": "H. Metallothionein: Disease-free survival", "offset": -15.5, "baseline": "alphabetic", "dx": 2},
"width": 636, "height": 145.5,
"data": {"name": "rows"},
"transform": [{"filter": "datum.panel === 'H'"}],
"resolve": {"scale": {"yOffset": "independent"}},
"layer": [
{"data": {"name": "panels"}, "transform": [{"filter": "datum.panel === 'H'"}], "mark": {"type": "rule", "strokeWidth": 2, "color": "black"}, "encoding": {"y": {"datum": "rule", "type": "nominal", "scale": {"type": "point", "domain": ["h1","h2","rule","s1","s2","gap","tf","tr","het","ovr","axis"], "padding": 0}, "axis": null}}},
{"data": {"name": "panels"}, "transform": [{"filter": "datum.panel === 'H'"}], "mark": {"type": "rule", "strokeWidth": 1.5, "color": "black"}, "encoding": {"x": {"datum": 1, "type": "quantitative", "title": null, "scale": {"type": "log", "domain": [3.65e-11, 3.37e7], "nice": false}, "axis": {"values": [0.001,0.01,0.1,1,10,100,1000], "labelExpr": "'' + datum.value", "title": null, "grid": false, "domainColor": "black", "domainWidth": 2, "tickColor": "black", "tickWidth": 1.5, "tickSize": -4, "labelPadding": 7, "labelFontSize": 11, "labelColor": "black", "labelFont": "Liberation Serif"}}, "y": {"datum": "rule", "type": "nominal", "scale": {"type": "point", "domain": ["h1","h2","rule","s1","s2","gap","tf","tr","het","ovr","axis"], "padding": 0}, "axis": null}, "y2": {"datum": "axis"}}},
{"transform": [{"filter": "datum.kind === 'study'"}], "mark": {"type": "rule", "strokeWidth": 1.2, "color": "black"}, "encoding": {"x": {"field": "lo", "type": "quantitative", "title": null, "scale": {"type": "log", "domain": [3.65e-11, 3.37e7], "nice": false}, "axis": {"values": [0.001,0.01,0.1,1,10,100,1000], "labelExpr": "'' + datum.value", "title": null, "grid": false, "domainColor": "black", "domainWidth": 2, "tickColor": "black", "tickWidth": 1.5, "tickSize": -4, "labelPadding": 7, "labelFontSize": 11, "labelColor": "black", "labelFont": "Liberation Serif"}}, "x2": {"field": "hi"}, "y": {"field": "row", "type": "nominal", "scale": {"type": "point", "domain": ["h1","h2","rule","s1","s2","gap","tf","tr","het","ovr","axis"], "padding": 0}, "axis": null}}},
{"transform": [{"filter": "datum.kind === 'study'"}], "mark": {"type": "square", "filled": true, "color": "black", "opacity": 1}, "encoding": {"x": {"field": "hr", "type": "quantitative", "title": null, "scale": {"type": "log", "domain": [3.65e-11, 3.37e7], "nice": false}, "axis": {"values": [0.001,0.01,0.1,1,10,100,1000], "labelExpr": "'' + datum.value", "title": null, "grid": false, "domainColor": "black", "domainWidth": 2, "tickColor": "black", "tickWidth": 1.5, "tickSize": -4, "labelPadding": 7, "labelFontSize": 11, "labelColor": "black", "labelFont": "Liberation Serif"}}, "y": {"field": "row", "type": "nominal", "scale": {"type": "point", "domain": ["h1","h2","rule","s1","s2","gap","tf","tr","het","ovr","axis"], "padding": 0}, "axis": null}, "size": {"field": "weight", "type": "quantitative", "scale": {"domain": [0, 100], "range": [0, 200]}, "legend": null}}},
{"transform": [{"filter": "datum.kind === 'total'"}, {"fold": ["lo", "hr"], "as": ["k", "v"]}], "mark": {"type": "area", "orient": "vertical", "color": "black", "opacity": 1}, "encoding": {"x": {"field": "v", "type": "quantitative", "title": null, "scale": {"type": "log", "domain": [3.65e-11, 3.37e7], "nice": false}, "axis": {"values": [0.001,0.01,0.1,1,10,100,1000], "labelExpr": "'' + datum.value", "title": null, "grid": false, "domainColor": "black", "domainWidth": 2, "tickColor": "black", "tickWidth": 1.5, "tickSize": -4, "labelPadding": 7, "labelFontSize": 11, "labelColor": "black", "labelFont": "Liberation Serif"}}, "y": {"field": "row", "type": "nominal", "scale": {"type": "point", "domain": ["h1","h2","rule","s1","s2","gap","tf","tr","het","ovr","axis"], "padding": 0}, "axis": null}, "yOffset": {"field": "k", "type": "nominal", "scale": {"type": "point", "domain": ["hr", "lo"], "range": [-6, 0], "padding": 0}}, "y2": {"field": "row"}, "detail": {"field": "row"}}},
{"transform": [{"filter": "datum.kind === 'total'"}, {"fold": ["hr", "hi"], "as": ["k", "v"]}], "mark": {"type": "area", "orient": "vertical", "color": "black", "opacity": 1}, "encoding": {"x": {"field": "v", "type": "quantitative", "title": null, "scale": {"type": "log", "domain": [3.65e-11, 3.37e7], "nice": false}, "axis": {"values": [0.001,0.01,0.1,1,10,100,1000], "labelExpr": "'' + datum.value", "title": null, "grid": false, "domainColor": "black", "domainWidth": 2, "tickColor": "black", "tickWidth": 1.5, "tickSize": -4, "labelPadding": 7, "labelFontSize": 11, "labelColor": "black", "labelFont": "Liberation Serif"}}, "y": {"field": "row", "type": "nominal", "scale": {"type": "point", "domain": ["h1","h2","rule","s1","s2","gap","tf","tr","het","ovr","axis"], "padding": 0}, "axis": null}, "yOffset": {"field": "k", "type": "nominal", "scale": {"type": "point", "domain": ["hr", "hi"], "range": [-6, 0], "padding": 0}}, "y2": {"field": "row"}, "detail": {"field": "row"}}},
{"transform": [{"filter": "datum.kind === 'total'"}, {"fold": ["lo", "hr"], "as": ["k", "v"]}], "mark": {"type": "area", "orient": "vertical", "color": "black", "opacity": 1}, "encoding": {"x": {"field": "v", "type": "quantitative", "title": null, "scale": {"type": "log", "domain": [3.65e-11, 3.37e7], "nice": false}, "axis": {"values": [0.001,0.01,0.1,1,10,100,1000], "labelExpr": "'' + datum.value", "title": null, "grid": false, "domainColor": "black", "domainWidth": 2, "tickColor": "black", "tickWidth": 1.5, "tickSize": -4, "labelPadding": 7, "labelFontSize": 11, "labelColor": "black", "labelFont": "Liberation Serif"}}, "y": {"field": "row", "type": "nominal", "scale": {"type": "point", "domain": ["h1","h2","rule","s1","s2","gap","tf","tr","het","ovr","axis"], "padding": 0}, "axis": null}, "yOffset": {"field": "k", "type": "nominal", "scale": {"type": "point", "domain": ["hr", "lo"], "range": [6, 0], "padding": 0}}, "y2": {"field": "row"}, "detail": {"field": "row"}}},
{"transform": [{"filter": "datum.kind === 'total'"}, {"fold": ["hr", "hi"], "as": ["k", "v"]}], "mark": {"type": "area", "orient": "vertical", "color": "black", "opacity": 1}, "encoding": {"x": {"field": "v", "type": "quantitative", "title": null, "scale": {"type": "log", "domain": [3.65e-11, 3.37e7], "nice": false}, "axis": {"values": [0.001,0.01,0.1,1,10,100,1000], "labelExpr": "'' + datum.value", "title": null, "grid": false, "domainColor": "black", "domainWidth": 2, "tickColor": "black", "tickWidth": 1.5, "tickSize": -4, "labelPadding": 7, "labelFontSize": 11, "labelColor": "black", "labelFont": "Liberation Serif"}}, "y": {"field": "row", "type": "nominal", "scale": {"type": "point", "domain": ["h1","h2","rule","s1","s2","gap","tf","tr","het","ovr","axis"], "padding": 0}, "axis": null}, "yOffset": {"field": "k", "type": "nominal", "scale": {"type": "point", "domain": ["hr", "hi"], "range": [6, 0], "padding": 0}}, "y2": {"field": "row"}, "detail": {"field": "row"}}},
{"transform": [{"filter": "datum.kind === 'study'"}], "mark": {"type": "text", "align": "left", "baseline": "middle"}, "encoding": {"x": {"value": 10}, "y": {"field": "row", "type": "nominal", "scale": {"type": "point", "domain": ["h1","h2","rule","s1","s2","gap","tf","tr","het","ovr","axis"], "padding": 0}, "axis": null}, "text": {"field": "label"}}},
{"transform": [{"filter": "datum.kind !== 'study'"}], "mark": {"type": "text", "align": "left", "baseline": "middle"}, "encoding": {"x": {"value": 2}, "y": {"field": "row", "type": "nominal", "scale": {"type": "point", "domain": ["h1","h2","rule","s1","s2","gap","tf","tr","het","ovr","axis"], "padding": 0}, "axis": null}, "text": {"field": "label"}}},
{"transform": [{"filter": "datum.kind === 'study'"}], "mark": {"type": "text", "align": "right", "baseline": "middle"}, "encoding": {"x": {"value": 213}, "y": {"field": "row", "type": "nominal", "scale": {"type": "point", "domain": ["h1","h2","rule","s1","s2","gap","tf","tr","het","ovr","axis"], "padding": 0}, "axis": null}, "text": {"field": "logse"}}},
{"transform": [{"filter": "datum.kind !== 'test'"}], "mark": {"type": "text", "align": "center", "baseline": "middle"}, "encoding": {"x": {"value": 466}, "y": {"field": "row", "type": "nominal", "scale": {"type": "point", "domain": ["h1","h2","rule","s1","s2","gap","tf","tr","het","ovr","axis"], "padding": 0}, "axis": null}, "text": {"field": "weight", "type": "quantitative", "format": ".2f"}}},
{"transform": [{"filter": "datum.kind !== 'test'"}], "mark": {"type": "text", "align": "left", "baseline": "middle"}, "encoding": {"x": {"value": 532}, "y": {"field": "row", "type": "nominal", "scale": {"type": "point", "domain": ["h1","h2","rule","s1","s2","gap","tf","tr","het","ovr","axis"], "padding": 0}, "axis": null}, "text": {"field": "ci"}}},
{"data": {"name": "panels"}, "transform": [{"filter": "datum.panel === 'H'"}], "mark": {"type": "text", "align": "left", "baseline": "middle", "dy": 1}, "encoding": {"x": {"value": 2}, "y": {"datum": "h2", "type": "nominal", "scale": {"type": "point", "domain": ["h1","h2","rule","s1","s2","gap","tf","tr","het","ovr","axis"], "padding": 0}, "axis": null}, "text": {"value": "Study"}}},
{"data": {"name": "panels"}, "transform": [{"filter": "datum.panel === 'H'"}], "mark": {"type": "text", "align": "left", "baseline": "middle", "dy": 1}, "encoding": {"x": {"value": 140}, "y": {"datum": "h2", "type": "nominal", "scale": {"type": "point", "domain": ["h1","h2","rule","s1","s2","gap","tf","tr","het","ovr","axis"], "padding": 0}, "axis": null}, "text": {"value": "log[Hazard Ratio] (SE)"}}},
{"data": {"name": "panels"}, "transform": [{"filter": "datum.panel === 'H'"}], "mark": {"type": "text", "align": "center", "baseline": "middle"}, "encoding": {"x": {"value": 368}, "y": {"datum": "h1", "type": "nominal", "scale": {"type": "point", "domain": ["h1","h2","rule","s1","s2","gap","tf","tr","het","ovr","axis"], "padding": 0}, "axis": null}, "text": {"value": "Hazard Ratio"}}},
{"data": {"name": "panels"}, "transform": [{"filter": "datum.panel === 'H'"}], "mark": {"type": "text", "align": "center", "baseline": "middle"}, "encoding": {"x": {"value": 368}, "y": {"datum": "h2", "type": "nominal", "scale": {"type": "point", "domain": ["h1","h2","rule","s1","s2","gap","tf","tr","het","ovr","axis"], "padding": 0}, "axis": null}, "text": {"value": "(95% CI)"}}},
{"data": {"name": "panels"}, "transform": [{"filter": "datum.panel === 'H'"}], "mark": {"type": "text", "align": "center", "baseline": "middle"}, "encoding": {"x": {"value": 463}, "y": {"datum": "h1", "type": "nominal", "scale": {"type": "point", "domain": ["h1","h2","rule","s1","s2","gap","tf","tr","het","ovr","axis"], "padding": 0}, "axis": null}, "text": {"value": "Weight"}}},
{"data": {"name": "panels"}, "transform": [{"filter": "datum.panel === 'H'"}], "mark": {"type": "text", "align": "center", "baseline": "middle"}, "encoding": {"x": {"value": 463}, "y": {"datum": "h2", "type": "nominal", "scale": {"type": "point", "domain": ["h1","h2","rule","s1","s2","gap","tf","tr","het","ovr","axis"], "padding": 0}, "axis": null}, "text": {"value": "%"}}},
{"data": {"name": "panels"}, "transform": [{"filter": "datum.panel === 'H'"}], "mark": {"type": "text", "align": "center", "baseline": "middle"}, "encoding": {"x": {"value": 560}, "y": {"datum": "h1", "type": "nominal", "scale": {"type": "point", "domain": ["h1","h2","rule","s1","s2","gap","tf","tr","het","ovr","axis"], "padding": 0}, "axis": null}, "text": {"value": "Hazard Ratio"}}},
{"data": {"name": "panels"}, "transform": [{"filter": "datum.panel === 'H'"}], "mark": {"type": "text", "align": "center", "baseline": "middle"}, "encoding": {"x": {"value": 560}, "y": {"datum": "h2", "type": "nominal", "scale": {"type": "point", "domain": ["h1","h2","rule","s1","s2","gap","tf","tr","het","ovr","axis"], "padding": 0}, "axis": null}, "text": {"value": "(95% CI)"}}},
{"data": {"name": "panels"}, "transform": [{"filter": "datum.panel === 'H'"}], "mark": {"type": "text", "align": "center", "baseline": "middle", "dy": 25}, "encoding": {"x": {"value": 237}, "y": {"datum": "axis", "type": "nominal", "scale": {"type": "point", "domain": ["h1","h2","rule","s1","s2","gap","tf","tr","het","ovr","axis"], "padding": 0}, "axis": null}, "text": {"field": "favorsLeft"}}},
{"data": {"name": "panels"}, "transform": [{"filter": "datum.panel === 'H'"}], "mark": {"type": "text", "align": "left", "baseline": "middle", "dy": 25}, "encoding": {"x": {"value": 390}, "y": {"datum": "axis", "type": "nominal", "scale": {"type": "point", "domain": ["h1","h2","rule","s1","s2","gap","tf","tr","het","ovr","axis"], "padding": 0}, "axis": null}, "text": {"field": "favorsRight"}}}
]
}
]
}
